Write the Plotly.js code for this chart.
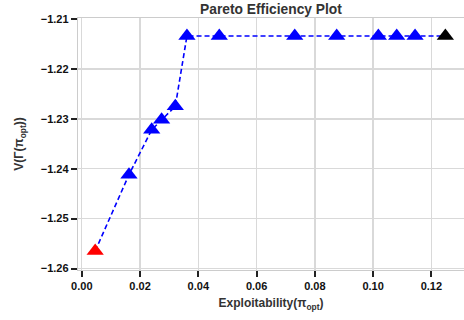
<!DOCTYPE html>
<html>
<head>
<meta charset="utf-8">
<script src="https://cdn.plot.ly/plotly-3.0.1.min.js"></script>
<style>html,body{margin:0;padding:0;background:#fff;}#chart{width:464px;height:320px;}</style>
</head>
<body>
<div id="chart"></div>
<script>
const exploitability = [0.0046, 0.0162, 0.0240, 0.0274, 0.0321, 0.0361, 0.0472, 0.0731, 0.0875, 0.1018, 0.1081, 0.1144, 0.1248];
const value = [-1.2565, -1.2412, -1.2322, -1.2302, -1.2275, -1.2134, -1.2134, -1.2134, -1.2134, -1.2134, -1.2134, -1.2134, -1.2134];
const pointColors = ['#ff0000', '#0000ff', '#0000ff', '#0000ff', '#0000ff', '#0000ff', '#0000ff', '#0000ff', '#0000ff', '#0000ff', '#0000ff', '#0000ff', '#000000'];
const xTicks = [0.00, 0.02, 0.04, 0.06, 0.08, 0.10, 0.12];
const yTicks = [-1.26, -1.25, -1.24, -1.23, -1.22, -1.21];

const font = 'Liberation Sans, Arial, sans-serif';

const traces = [
  {
    x: exploitability, y: value, type: 'scatter', mode: 'lines',
    line: {color: '#0000ff', width: 1.6, dash: '5px,3px'},
    hoverinfo: 'skip', showlegend: false
  },
  {
    x: exploitability, y: value, type: 'scatter', mode: 'markers',
    marker: {symbol: 'triangle-up', size: 15, color: pointColors, line: {width: 0}},
    showlegend: false
  }
];

const axisCommon = {
  showgrid: true, gridcolor: '#d9d9d9', gridwidth: 1.4,
  showline: true, linecolor: '#cccccc', linewidth: 1.2, mirror: true,
  ticks: 'outside', ticklen: 6, tickwidth: 2, tickcolor: '#222',
  zeroline: false,
  tickfont: {family: font, size: 11, color: '#111', weight: 'bold'}
};

const layout = {
  width: 464, height: 320,
  margin: {l: 78, r: 0, t: 18, b: 49.5},
  paper_bgcolor: '#fff', plot_bgcolor: '#fff',
  title: {text: '<b>Pareto Efficiency Plot</b>', font: {family: font, size: 13.8, color: '#333'}, x: 0.584, xanchor: 'center', y: 0.972, yanchor: 'middle'},
  xaxis: Object.assign({}, axisCommon, {
    range: [-0.0013, 0.1312], tickvals: xTicks, ticktext: xTicks.map(v => v.toFixed(2)),
    title: {text: '<b>Exploitability(π<sub>opt</sub>)</b>', font: {family: font, size: 12, color: '#333'}, standoff: 7}
  }),
  yaxis: Object.assign({}, axisCommon, {
    range: [-1.2603, -1.2098], tickvals: yTicks, ticktext: yTicks.map(v => '\u2212' + Math.abs(v).toFixed(2)),
    title: {text: '<b>V(Γ(π<sub>opt</sub>))</b>', font: {family: font, size: 12, color: '#333'}, standoff: 14}
  }),
  font: {family: font}
};

Plotly.newPlot('chart', traces, layout, {displayModeBar: false, staticPlot: true});
</script>
</body>
</html>
